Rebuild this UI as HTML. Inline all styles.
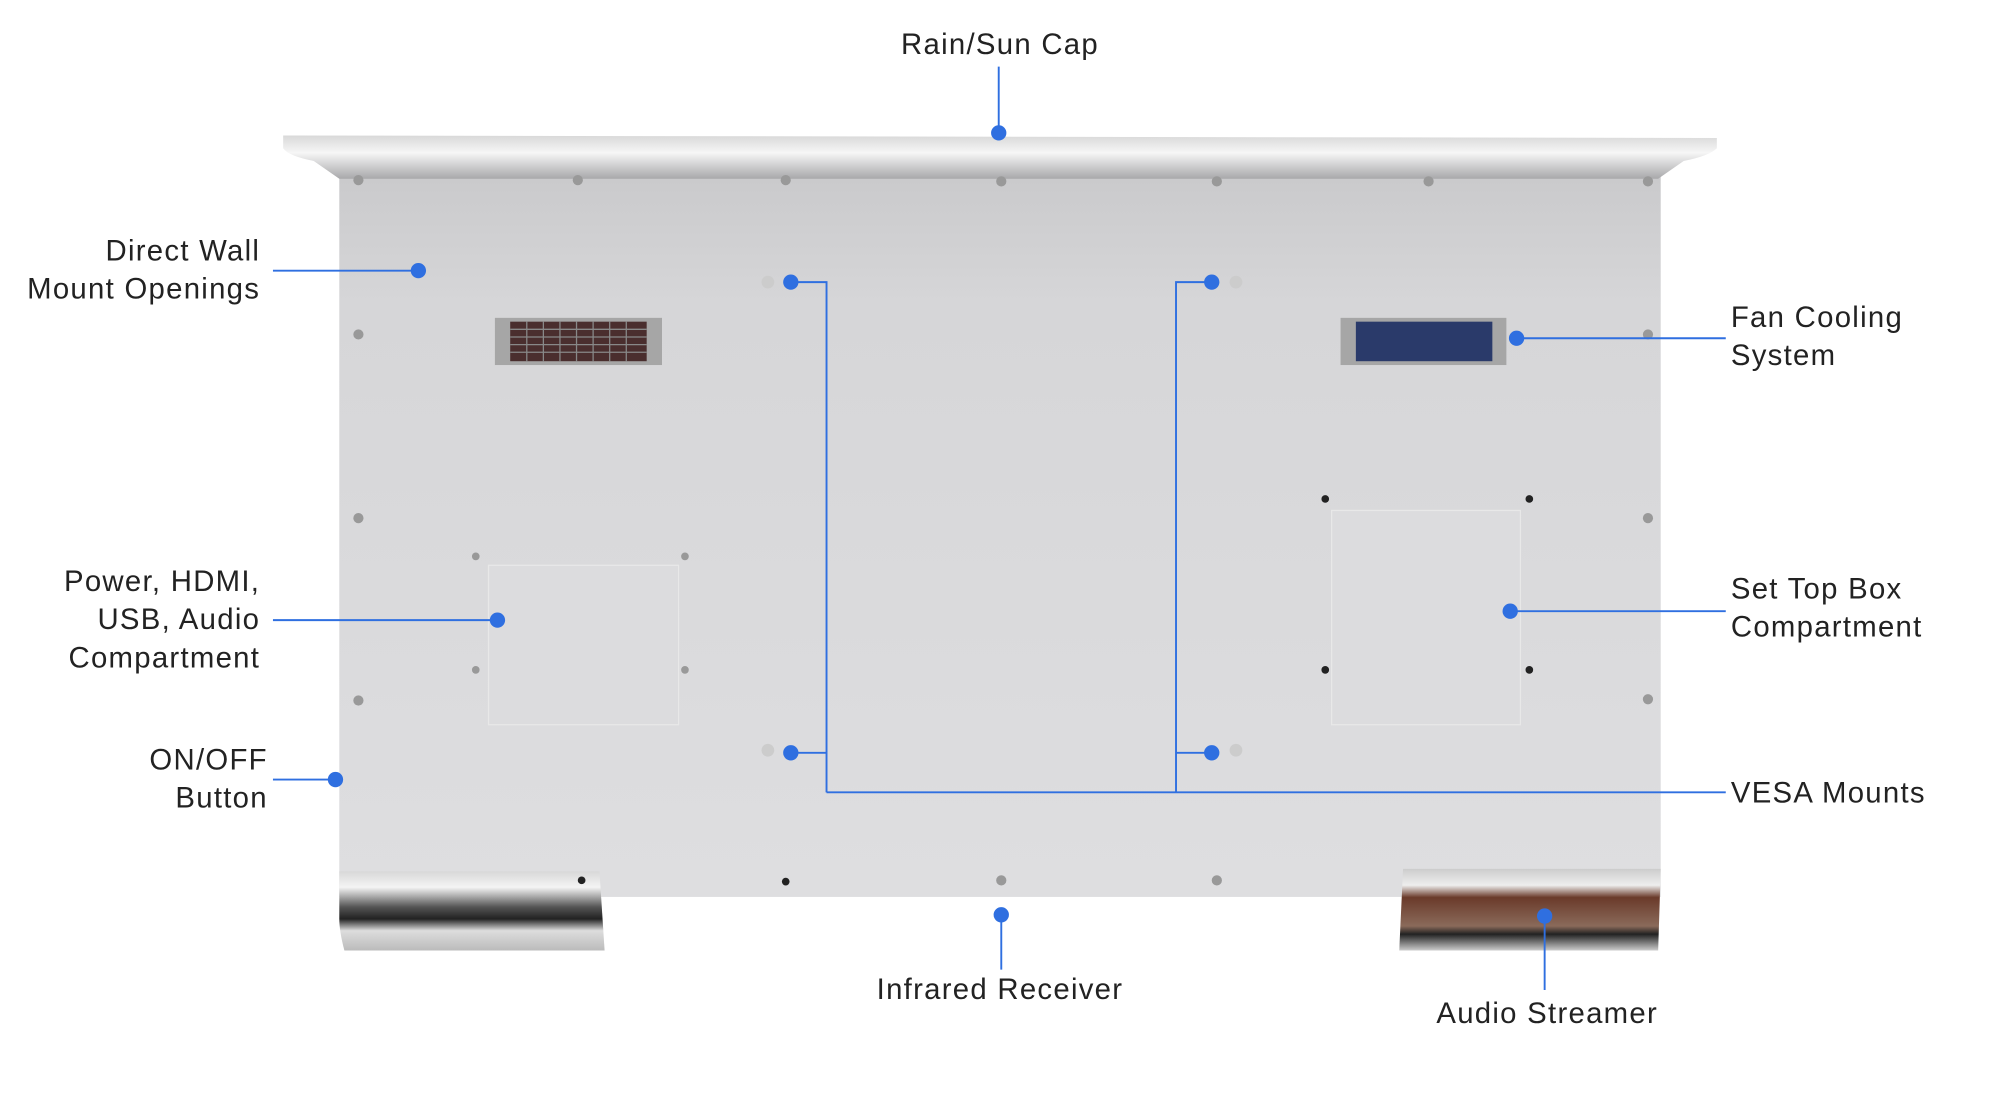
<!DOCTYPE html>
<html><head><meta charset="utf-8"><style>
html,body{margin:0;padding:0;background:#fff;}
svg{display:block;}
text{font-family:"Liberation Sans",sans-serif;font-size:23px;fill:#222;letter-spacing:1px;}
</style></head><body>
<svg width="2000" height="1114" viewBox="0 0 1568 873" xmlns="http://www.w3.org/2000/svg">
<defs>
<linearGradient id="pan" x1="0" y1="0" x2="0" y2="1">
<stop offset="0" stop-color="#c8c8ca"/><stop offset="0.2" stop-color="#d6d6d8"/><stop offset="1" stop-color="#dedee0"/>
</linearGradient>
<linearGradient id="cap" x1="0" y1="0" x2="0" y2="1">
<stop offset="0" stop-color="#d8d8d8"/><stop offset="0.4" stop-color="#f6f6f6"/><stop offset="1" stop-color="#a8a8aa"/>
</linearGradient>
<linearGradient id="foot" x1="0" y1="0" x2="0" y2="1">
<stop offset="0" stop-color="#d8d8d8"/><stop offset="0.2" stop-color="#f4f4f4"/><stop offset="0.45" stop-color="#555"/><stop offset="0.6" stop-color="#222"/><stop offset="0.75" stop-color="#ddd"/><stop offset="1" stop-color="#bbb"/>
</linearGradient>
<linearGradient id="foot2" x1="0" y1="0" x2="0" y2="1">
<stop offset="0" stop-color="#ccc"/><stop offset="0.2" stop-color="#eee"/><stop offset="0.35" stop-color="#6a3a2a"/><stop offset="0.7" stop-color="#8a6a5a"/><stop offset="0.8" stop-color="#222"/><stop offset="1" stop-color="#ccc"/>
</linearGradient>
</defs>
<rect x="266" y="122" width="1036" height="581" fill="url(#pan)"/>
<path d="M222 106 L1346 108 L1346 116 Q1340 122 1320 126 L1300 140 L266 140 L246 126 Q226 122 222 116 Z" fill="url(#cap)"/>
<rect x="383" y="443" width="149" height="125" fill="#dcdcde" stroke="#e8e8e8"/>
<rect x="1044" y="400" width="148" height="168" fill="#dcdcde" stroke="#e8e8e8"/>
<rect x="388" y="249" width="131" height="37" fill="#a6a6a6"/>
<rect x="400" y="252" width="107" height="31" fill="#4a2e2e"/>
<g stroke="#888" stroke-width="1"><path d="M400 258H507M400 264H507M400 270H507M400 276H507M413 252V283M426 252V283M439 252V283M452 252V283M465 252V283M478 252V283M491 252V283"/></g>
<rect x="1051" y="249" width="130" height="37" fill="#a6a6a6"/>
<rect x="1063" y="252" width="107" height="31" fill="#2a3a6a"/>
<path d="M266 683 L470 683 L474 745 L270 745 Q266 730 266 720 Z" fill="url(#foot)"/>
<path d="M1100 681 L1302 681 L1300 745 L1097 745 Z" fill="url(#foot2)"/>
<g fill="#999">
<circle cx="281" cy="141" r="4"/><circle cx="453" cy="141" r="4"/><circle cx="616" cy="141" r="4"/><circle cx="785" cy="142" r="4"/><circle cx="954" cy="142" r="4"/><circle cx="1120" cy="142" r="4"/><circle cx="1292" cy="142" r="4"/>
<circle cx="281" cy="262" r="4"/><circle cx="281" cy="406" r="4"/><circle cx="281" cy="549" r="4"/>
<circle cx="1292" cy="262" r="4"/><circle cx="1292" cy="406" r="4"/><circle cx="1292" cy="548" r="4"/>
<circle cx="373" cy="436" r="3"/><circle cx="537" cy="436" r="3"/><circle cx="373" cy="525" r="3"/><circle cx="537" cy="525" r="3"/>
<circle cx="785" cy="690" r="4"/><circle cx="954" cy="690" r="4"/>
<circle cx="602" cy="221" r="5" fill="#ccc"/><circle cx="969" cy="221" r="5" fill="#ccc"/><circle cx="602" cy="588" r="5" fill="#ccc"/><circle cx="969" cy="588" r="5" fill="#ccc"/>
</g>
<g fill="#222"><circle cx="1039" cy="391" r="3"/><circle cx="1199" cy="391" r="3"/><circle cx="1039" cy="525" r="3"/><circle cx="1199" cy="525" r="3"/><circle cx="616" cy="691" r="3"/><circle cx="456" cy="690" r="3"/></g>
<g stroke="#2f6fe0" stroke-width="1.5" fill="none">
<path d="M783 52V104"/>
<path d="M214 212H328"/>
<path d="M214 486H390"/>
<path d="M214 611H263"/>
<path d="M620 221H648V621M620 590H648"/>
<path d="M950 221H922V621M950 590H922"/>
<path d="M648 621H1353"/>
<path d="M1189 265H1353"/>
<path d="M1184 479H1353"/>
<path d="M785 717V760"/>
<path d="M1211 718V776"/>
</g>
<g fill="#2f6fe0">
<circle cx="783" cy="104" r="6"/><circle cx="328" cy="212" r="6"/><circle cx="390" cy="486" r="6"/><circle cx="263" cy="611" r="6"/>
<circle cx="620" cy="221" r="6"/><circle cx="620" cy="590" r="6"/><circle cx="950" cy="221" r="6"/><circle cx="950" cy="590" r="6"/>
<circle cx="1189" cy="265" r="6"/><circle cx="1184" cy="479" r="6"/><circle cx="785" cy="717" r="6"/><circle cx="1211" cy="718" r="6"/>
</g>
<text x="784" y="42" text-anchor="middle">Rain/Sun Cap</text>
<text x="204" y="204" text-anchor="end">Direct Wall</text>
<text x="204" y="234" text-anchor="end">Mount Openings</text>
<text x="204" y="463" text-anchor="end">Power, HDMI,</text>
<text x="204" y="493" text-anchor="end">USB, Audio</text>
<text x="204" y="523" text-anchor="end">Compartment</text>
<text x="210" y="603" text-anchor="end">ON/OFF</text>
<text x="210" y="633" text-anchor="end">Button</text>
<text x="1357" y="256">Fan Cooling</text>
<text x="1357" y="286">System</text>
<text x="1357" y="469">Set Top Box</text>
<text x="1357" y="499">Compartment</text>
<text x="1357" y="629">VESA Mounts</text>
<text x="784" y="783" text-anchor="middle">Infrared Receiver</text>
<text x="1213" y="802" text-anchor="middle">Audio Streamer</text>
</svg>
</body></html>
